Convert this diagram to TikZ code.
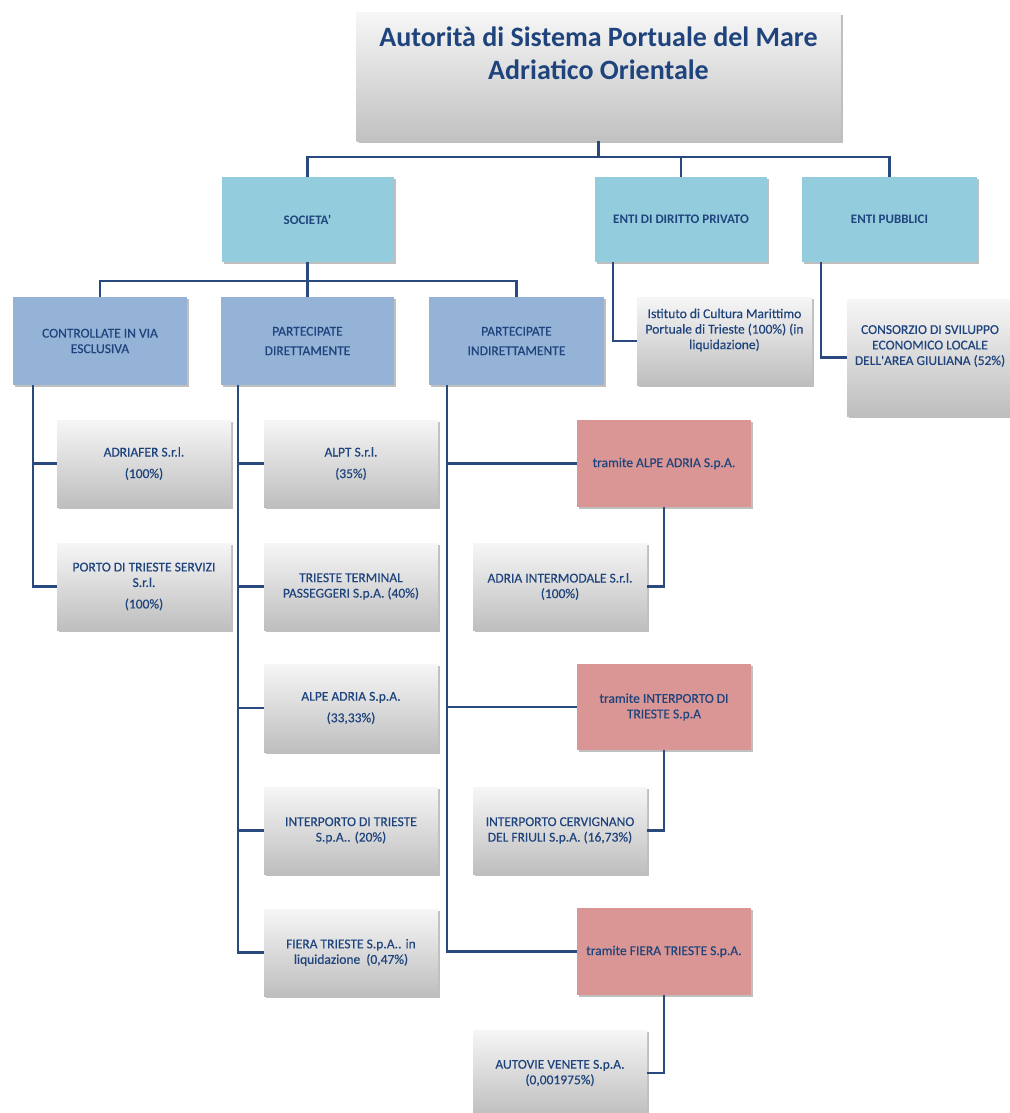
\documentclass[tikz,border=0pt]{standalone}
\usepackage{fontspec}
\setmainfont{Carlito}
\newfontfamily\boxfont[FakeBold=0.4]{Carlito}
\usetikzlibrary{shadows}
\definecolor{txtc}{HTML}{1F447D}
\definecolor{connc}{HTML}{2A4A7F}
\definecolor{tealc}{HTML}{93CDDD}
\definecolor{bluec}{HTML}{95B3D7}
\definecolor{redc}{HTML}{D99694}
\definecolor{gtop}{HTML}{F6F6F6}
\definecolor{gbot}{HTML}{BEBEBE}
\tikzset{
  base/.style={rectangle, inner sep=0pt, align=center, text=txtc,
    font=\boxfont\fontsize{13.5}{15.5}\selectfont,
    drop shadow={shadow xshift=2pt, shadow yshift=-2pt, opacity=0.25, fill=black}},
  gbox/.style={base, top color=gtop, bottom color=gbot, minimum width=174pt, minimum height=87pt},
  tbox/.style={base, fill=tealc, minimum width=172pt, minimum height=85pt, font=\bfseries\fontsize{13}{15.5}\selectfont},
  bbox/.style={base, fill=bluec, minimum width=174pt, minimum height=88pt},
  rbox/.style={base, fill=redc, minimum width=174pt, minimum height=87pt},
  conn/.style={draw=connc, line width=2.3pt},
  plain/.style={inner sep=0pt, align=center, text=txtc, font=\boxfont\fontsize{13.5}{15.5}\selectfont}
}
\begin{document}
\begin{tikzpicture}[x=1pt,y=-1pt]
\useasboundingbox (0,0) rectangle (1009,1113);
% top
\node[base, top color=gtop, bottom color=gbot!95, minimum width=484pt, minimum height=128pt] (title) at (598.5,77) {};
\node[plain, font=\fontsize{28}{33}\selectfont\bfseries] (titletext) at (598.5,53) {Autorità di Sistema Portuale del Mare\\Adriatico Orientale};
% level 2
\node[tbox] (soc) at (307.5,219.5) {SOCIETA'};
\node[tbox] (priv) at (681,219.5) {ENTI DI DIRITTO PRIVATO};
\node[tbox, minimum width=175pt] (pubb) at (889.5,219.5) {ENTI PUBBLICI};
% level 3
\node[bbox] (contr) at (100,341) {CONTROLLATE IN VIA\\ESCLUSIVA};
\node[bbox, minimum width=173pt] (dir) at (307.5,341) {PARTECIPATE\\[4pt]DIRETTAMENTE};
\node[bbox, minimum width=175pt] (indir) at (516.5,341) {PARTECIPATE\\[4pt]INDIRETTAMENTE};
\node[gbox, minimum width=175pt, minimum height=88pt] (ist) at (724.5,341) {};
\node[plain] (isttext) at (724.5,330) {Istituto di Cultura Marittimo\\Portuale di Trieste (100\%) (in\\liquidazione)};
\node[gbox, minimum width=166pt, minimum height=117pt] (cons) at (930,357.5) {};
\node[plain] (constext) at (930,346) {CONSORZIO DI SVILUPPO\\ECONOMICO LOCALE\\DELL'AREA GIULIANA (52\%)};
% controllate
\node[gbox] (adriafer) at (144,463.5) {ADRIAFER S.r.l.\\[6pt](100\%)};
\node[gbox] (porto) at (144,586.5) {PORTO DI TRIESTE SERVIZI\\S.r.l.\\[6pt](100\%)};
% dirette
\node[gbox] (alpt) at (351,463.5) {ALPT S.r.l.\\[6pt](35\%)};
\node[gbox] (tt) at (351,586.5) {TRIESTE TERMINAL\\PASSEGGERI S.p.A. (40\%)};
\node[gbox, minimum height=88pt] (alpe) at (351,708) {ALPE ADRIA S.p.A.\\[6pt](33,33\%)};
\node[gbox] (interp) at (351,830.5) {INTERPORTO DI TRIESTE\\S.p.A.. (20\%)};
\node[gbox] (fiera) at (351,952.5) {FIERA TRIESTE S.p.A.. in\\liquidazione~~(0,47\%)};
% indirette
\node[rbox] (red1) at (664,463.5) {tramite ALPE ADRIA S.p.A.};
\node[gbox] (adriaint) at (560,586.5) {ADRIA INTERMODALE S.r.l.\\(100\%)};
\node[rbox, minimum height=86pt] (red2) at (664,707) {tramite INTERPORTO DI\\TRIESTE S.p.A};
\node[gbox] (cerv) at (560,830.5) {INTERPORTO CERVIGNANO\\DEL FRIULI S.p.A. (16,73\%)};
\node[rbox] (red3) at (664,951.5) {tramite FIERA TRIESTE S.p.A.};
\node[gbox, minimum height=86pt] (autovie) at (560,1073) {AUTOVIE VENETE S.p.A.\\(0,001975\%)};
% connectors
\coordinate (bus) at (598.5,157);
\coordinate (bus2) at (307.5,281);
\draw[conn] (title.south) -- (bus);
\draw[conn] (soc.north) |- (bus) -| (pubb.north);
\draw[conn] (priv.north) -- (priv.north |- bus);
\draw[conn] (soc.south) -- (dir.north);
\draw[conn] (contr.north) |- (bus2) -| (indir.north);
\draw[conn] ([xshift=18pt]priv.south west) |- (ist.west);
\draw[conn] ([xshift=19pt]pubb.south west) |- (cons.west);
\draw[conn] ([xshift=20pt]contr.south west) |- (porto.west);
\draw[conn] ([xshift=20pt]contr.south west |- adriafer.west) -- (adriafer.west);
\draw[conn] ([xshift=17pt]dir.south west) |- (fiera.west);
\foreach \n in {alpt,tt,alpe,interp}
  \draw[conn] ([xshift=17pt]dir.south west |- \n.west) -- (\n.west);
\draw[conn] ([xshift=18pt]indir.south west) |- (red3.west);
\foreach \n in {red1,red2}
  \draw[conn] ([xshift=18pt]indir.south west |- \n.west) -- (\n.west);
\draw[conn] (red1.south) |- (adriaint.east);
\draw[conn] (red2.south) |- (cerv.east);
\draw[conn] (red3.south) |- (autovie.east);
\end{tikzpicture}
\end{document}
